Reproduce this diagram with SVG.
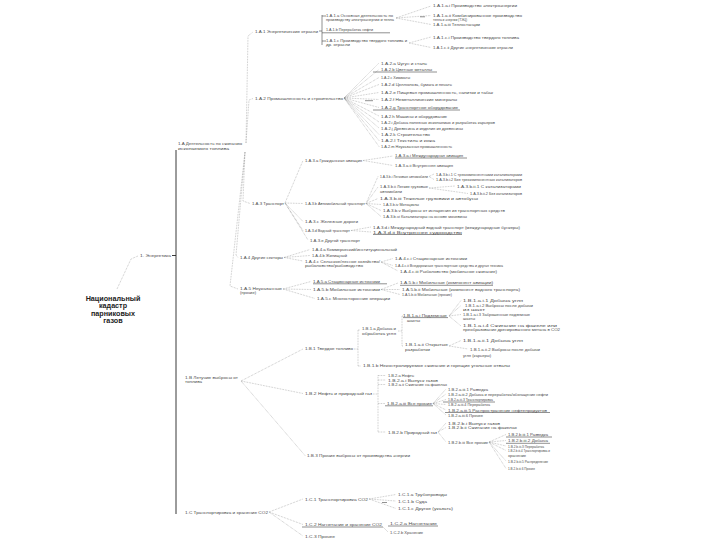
<svg xmlns="http://www.w3.org/2000/svg" width="720" height="540" viewBox="0 0 720 540">
<style>
text{font-family:"Liberation Sans","DejaVu Sans",sans-serif;font-size:4.3px;fill:#4a4a4a}
.root{font-size:7.2px;font-weight:bold;fill:#222;text-anchor:middle}
.c{fill:none;stroke:#8a8a8a;stroke-width:0.55;stroke-dasharray:0.7 0.9}
.u{fill:none;stroke:#555;stroke-width:0.65}
.v{fill:none;stroke:#222;stroke-width:0.9}
</style>
<rect width="720" height="540" fill="#fff"/>
<g id="connectors">
<path class="c" d="M117,289 L131,259 L138,256"/>
<path class="v" d="M176,150 V514 M172,255.5 H176"/>
<path class="c" d="M246,143 L248,36 L253,32 M246,143 L249,100 L253,98.5 M245,152 L243,201 L250,203.5 M245,152 L236,255 L238,257.5 M245,152 L230,286 L238,289"/>
<path class="u" d="M319,31 H322 M322,15 V45 M322,32.8 H390 M322,16 H326 M322,41 H326"/>
<path class="c" d="M396,18 L431,6 M396,18 L431,15.5 M396,18 L431,24.5 M409,43 L431,37 M409,43 L431,47.5"/>
<path class="u" d="M420,16.8 H425"/>
<path class="c" d="M344,98 L379,63 M344,98 L379,69.5 M344,98 L379,77.5 M344,98 L379,84.5 M344,98 L379,92.5 M344,98 L379,99.5 M344,98 L379,107.5 M344,98 L379,116 M344,98 L379,122 M344,98 L379,128 M344,98 L379,134.5 M344,98 L379,140.5 M344,98 L379,146.5"/>
<path class="u" d="M373,72 H437 M373,110 H460 M365,100.7 H373"/>
<path class="c" d="M285,203 L303,160.5 M285,203 L303,203.5 M285,203 L303,221.5 M285,203 L303,230.5 M285,203 L308,240"/>
<path class="c" d="M363,160.5 L393,156 M363,160.5 L393,165.5"/>
<path class="u" d="M395,158 H467"/>
<path class="c" d="M366,203.5 L378,176.5 M366,203.5 L378,187 M366,203.5 L378,198.5 M366,203.5 L381,204.5 M366,203.5 L381,210.5 M366,203.5 L381,216.5"/>
<path class="c" d="M429,176.5 L434,174 M429,176.5 L434,179.5 M429,188 L455,186 M429,188 L468,193.5"/>
<path class="c" d="M351,230.5 L371,227 M351,230.5 L371,232"/>
<path class="u" d="M373,234.5 H462"/>
<path class="c" d="M284,257.5 L310,249.5 M284,257.5 L310,255.5 M284,257.5 L303,261"/>
<path class="c" d="M381,262 L393,258.5 M381,262 L393,265.5 M381,262 L398,271"/>
<path class="c" d="M283,289 L311,281.5 M283,289 L311,289.5 M283,289 L315,298.5"/>
<path class="u" d="M313,283.8 H387 M400,285.3 H493"/>
<path class="c" d="M381,289.5 L398,283 M381,289.5 L400,289.5 M381,289.5 L400,294.5"/>
<path class="c" d="M241,381 L303,349 M241,381 L303,393.5 M241,381 L305,455.5"/>
<path class="c" d="M354,349 L358,349 M358,330 V366 M358,330 L360,330 M358,366 L361,366"/>
<path class="c" d="M398,331 L402,331 M402,316 V346 M402,316 L403,316 M402,346 L403,346"/>
<path class="u" d="M403,317.6 H448"/>
<path class="c" d="M449,316 L461,300.5 M449,316 L461,305.5 M449,316 L461,314.5 M449,316 L461,326 M449,346 L461,340.5 M449,346 L468,349"/>
<path class="c" d="M373,394 L378,394 M378,375.5 V432 M378,375.5 L386,375.5 M378,380 L386,380 M378,384.5 L386,384.5 M378,403.5 L385,403.5 M378,432 L386,432"/>
<path class="u" d="M385,405.8 H433 M443,402 H495 M445,412.5 H550"/>
<path class="c" d="M433,403.5 L446,389 M433,403.5 L446,394 M433,403.5 L446,399.5 M433,403.5 L446,404.5 M433,403.5 L446,410 M433,403.5 L446,415"/>
<path class="c" d="M438,432 L446,423 M438,432 L446,427.5 M438,432 L446,442"/>
<path class="c" d="M489,442 L506,434.5 M489,442 L506,440.5 M489,442 L506,446 M489,442 L506,450.5 M489,442 L506,461 M489,442 L506,468.5"/>
<path class="u" d="M506,437 H552 M506,443.3 H550"/>
<path class="c" d="M269,512 L303,499 M269,512 L303,524.5 M269,512 L303,536"/>
<path class="c" d="M369,499 L396,494.5 M369,499 L396,501 M369,499 L396,508.5"/>
<path class="u" d="M382,502.5 H387 M302,527 H383 M388,526 H438"/>
<path class="c" d="M383,527 L388,532"/>
</g>
<g id="root"><text class="root" x="113" y="300.5">Национальный</text><text class="root" x="113" y="308">кадастр</text><text class="root" x="113" y="315.5">парниковых</text><text class="root" x="113" y="323">газов</text></g>
<g id="n1"><text x="140" y="256.5" textLength="31" lengthAdjust="spacingAndGlyphs">1. Энергетика</text></g>
<g id="n1A"><text x="178" y="145" textLength="64" lengthAdjust="spacingAndGlyphs">1.A Деятельность по сжиганию</text><text x="178" y="150" textLength="51" lengthAdjust="spacingAndGlyphs">ископаемого топлива</text></g>
<g id="n1A1"><text x="255" y="32.5" textLength="63" lengthAdjust="spacingAndGlyphs">1.A.1 Энергетические отрасли</text></g>
<g id="n1A1a"><text x="326" y="16.5" textLength="67" lengthAdjust="spacingAndGlyphs">1.A.1.a Основная деятельность по</text><text x="326" y="21" textLength="68" lengthAdjust="spacingAndGlyphs">производству электроэнергии и тепла</text></g>
<g id="n1A1b"><text x="326" y="31" textLength="47" lengthAdjust="spacingAndGlyphs">1.A.1.b Переработка нефти</text></g>
<g id="n1A1c"><text x="326" y="41.5" textLength="81" lengthAdjust="spacingAndGlyphs">1.A.1.c Производство твердого топлива и</text><text x="326" y="46" textLength="24" lengthAdjust="spacingAndGlyphs">др. отрасли</text></g>
<g id="n1A1ai"><text x="433" y="7.2" textLength="84" lengthAdjust="spacingAndGlyphs">1.A.1.a.i Производство электроэнергии</text></g>
<g id="n1A1aii"><text x="433" y="16.5" textLength="89" lengthAdjust="spacingAndGlyphs">1.A.1.a.ii Комбинированное производство</text><text x="433" y="21" textLength="34" lengthAdjust="spacingAndGlyphs">тепла и энергии (ТЭЦ)</text></g>
<g id="n1A1aiii"><text x="433" y="26" textLength="47" lengthAdjust="spacingAndGlyphs">1.A.1.a.iii Теплостанции</text></g>
<g id="n1A1ci"><text x="433" y="38.5" textLength="86" lengthAdjust="spacingAndGlyphs">1.A.1.c.i Производство твердого топлива</text></g>
<g id="n1A1cii"><text x="433" y="49" textLength="80" lengthAdjust="spacingAndGlyphs">1.A.1.c.ii Другие энергетические отрасли</text></g>
<g id="n1A2"><text x="255" y="99.5" textLength="88" lengthAdjust="spacingAndGlyphs">1.A.2 Промышленность и строительство</text></g>
<g id="n1A2a"><text x="381" y="64.5" textLength="46" lengthAdjust="spacingAndGlyphs">1.A.2.a Чугун и сталь</text></g>
<g id="n1A2b"><text x="381" y="71" textLength="51" lengthAdjust="spacingAndGlyphs">1.A.2.b Цветные металлы</text></g>
<g id="n1A2c"><text x="381" y="79" textLength="29" lengthAdjust="spacingAndGlyphs">1.A.2.c Химикаты</text></g>
<g id="n1A2d"><text x="381" y="86" textLength="71" lengthAdjust="spacingAndGlyphs">1.A.2.d Целлюлоза, бумага и печать</text></g>
<g id="n1A2e"><text x="381" y="94" textLength="112" lengthAdjust="spacingAndGlyphs">1.A.2.e Пищевая промышленность, напитки и табак</text></g>
<g id="n1A2f"><text x="381" y="101" textLength="76" lengthAdjust="spacingAndGlyphs">1.A.2.f Неметаллические минералы</text></g>
<g id="n1A2g"><text x="381" y="109" textLength="77" lengthAdjust="spacingAndGlyphs">1.A.2.g Транспортное оборудование</text></g>
<g id="n1A2h"><text x="381" y="117.5" textLength="66" lengthAdjust="spacingAndGlyphs">1.A.2.h Машины и оборудование</text></g>
<g id="n1A2i"><text x="381" y="123.5" textLength="114" lengthAdjust="spacingAndGlyphs">1.A.2.i Добыча полезных ископаемых и разработка карьеров</text></g>
<g id="n1A2j"><text x="381" y="129.5" textLength="82" lengthAdjust="spacingAndGlyphs">1.A.2.j Древесина и изделия из древесины</text></g>
<g id="n1A2k"><text x="381" y="136" textLength="49" lengthAdjust="spacingAndGlyphs">1.A.2.k Строительство</text></g>
<g id="n1A2l"><text x="381" y="142" textLength="54" lengthAdjust="spacingAndGlyphs">1.A.2.l Текстиль и кожа</text></g>
<g id="n1A2m"><text x="381" y="148" textLength="71" lengthAdjust="spacingAndGlyphs">1.A.2.m Неуказанная промышленность</text></g>
<g id="n1A3"><text x="252" y="204.5" textLength="32" lengthAdjust="spacingAndGlyphs">1.A.3 Транспорт</text></g>
<g id="n1A3a"><text x="305" y="162" textLength="57" lengthAdjust="spacingAndGlyphs">1.A.3.a Гражданская авиация</text></g>
<g id="n1A3ai"><text x="395" y="157" textLength="68" lengthAdjust="spacingAndGlyphs">1.A.3.a.i Международная авиация</text></g>
<g id="n1A3aii"><text x="395" y="167" textLength="58" lengthAdjust="spacingAndGlyphs">1.A.3.a.ii Внутренняя авиация</text></g>
<g id="n1A3b"><text x="305" y="205" textLength="60" lengthAdjust="spacingAndGlyphs">1.A.3.b Автомобильный транспорт</text></g>
<g id="n1A3bi"><text x="380" y="178" textLength="48" lengthAdjust="spacingAndGlyphs">1.A.3.b.i Легковые автомобили</text></g>
<g id="n1A3bi1"><text x="436" y="175.5" textLength="86" lengthAdjust="spacingAndGlyphs">1.A.3.b.i.1 С трехкомпонентными катализаторами</text></g>
<g id="n1A3bi2"><text x="436" y="181" textLength="86" lengthAdjust="spacingAndGlyphs">1.A.3.b.i.2 Без трехкомпонентных катализаторов</text></g>
<g id="n1A3bii"><text x="380" y="188" textLength="48" lengthAdjust="spacingAndGlyphs">1.A.3.b.ii Легкие грузовые</text><text x="380" y="192.5" textLength="22" lengthAdjust="spacingAndGlyphs">автомобили</text></g>
<g id="n1A3bii1"><text x="457" y="187.5" textLength="64" lengthAdjust="spacingAndGlyphs">1.A.3.b.ii.1 С катализаторами</text></g>
<g id="n1A3bii2"><text x="470" y="195" textLength="52" lengthAdjust="spacingAndGlyphs">1.A.3.b.ii.2 Без катализаторов</text></g>
<g id="n1A3biii"><text x="380" y="200" textLength="98" lengthAdjust="spacingAndGlyphs">1.A.3.b.iii Тяжелые грузовики и автобусы</text></g>
<g id="n1A3biv"><text x="383" y="206" textLength="36" lengthAdjust="spacingAndGlyphs">1.A.3.b.iv Мотоциклы</text></g>
<g id="n1A3bv"><text x="383" y="212" textLength="122" lengthAdjust="spacingAndGlyphs">1.A.3.b.v Выбросы от испарения из транспортных средств</text></g>
<g id="n1A3bvi"><text x="383" y="218" textLength="84" lengthAdjust="spacingAndGlyphs">1.A.3.b.vi Катализаторы на основе мочевины</text></g>
<g id="n1A3c"><text x="305" y="223" textLength="53" lengthAdjust="spacingAndGlyphs">1.A.3.c Железные дороги</text></g>
<g id="n1A3d"><text x="305" y="232" textLength="45" lengthAdjust="spacingAndGlyphs">1.A.3.d Водный транспорт</text></g>
<g id="n1A3di"><text x="373" y="228.5" textLength="147" lengthAdjust="spacingAndGlyphs">1.A.3.d.i Международный водный транспорт (международные бункеры)</text></g>
<g id="n1A3dii"><text x="373" y="233.5" textLength="89" lengthAdjust="spacingAndGlyphs">1.A.3.d.ii Внутреннее судоходство</text></g>
<g id="n1A3e"><text x="310" y="241.5" textLength="50" lengthAdjust="spacingAndGlyphs">1.A.3.e Другой транспорт</text></g>
<g id="n1A4"><text x="240" y="259" textLength="43" lengthAdjust="spacingAndGlyphs">1.A.4 Другие секторы</text></g>
<g id="n1A4a"><text x="312" y="251" textLength="85" lengthAdjust="spacingAndGlyphs">1.A.4.a Коммерческий/институциональный</text></g>
<g id="n1A4b"><text x="312" y="257" textLength="35" lengthAdjust="spacingAndGlyphs">1.A.4.b Жилищный</text></g>
<g id="n1A4c"><text x="305" y="262.5" textLength="75" lengthAdjust="spacingAndGlyphs">1.A.4.c Сельское/лесное хозяйство/</text><text x="305" y="267" textLength="58" lengthAdjust="spacingAndGlyphs">рыболовство/рыбоводство</text></g>
<g id="n1A4ci"><text x="395" y="260" textLength="72" lengthAdjust="spacingAndGlyphs">1.A.4.c.i Стационарные источники</text></g>
<g id="n1A4cii"><text x="395" y="267" textLength="108" lengthAdjust="spacingAndGlyphs">1.A.4.c.ii Внедорожные транспортные средства и другая техника</text></g>
<g id="n1A4ciii"><text x="400" y="272.5" textLength="97" lengthAdjust="spacingAndGlyphs">1.A.4.c.iii Рыболовство (мобильное сжигание)</text></g>
<g id="n1A5"><text x="240" y="289.5" textLength="42" lengthAdjust="spacingAndGlyphs">1.A.5 Неуказанные</text><text x="240" y="294" textLength="16" lengthAdjust="spacingAndGlyphs">(прочие)</text></g>
<g id="n1A5a"><text x="313" y="282.5" textLength="67" lengthAdjust="spacingAndGlyphs">1.A.5.a Стационарные источники</text></g>
<g id="n1A5b"><text x="313" y="291" textLength="67" lengthAdjust="spacingAndGlyphs">1.A.5.b Мобильные источники</text></g>
<g id="n1A5c"><text x="317" y="300" textLength="73" lengthAdjust="spacingAndGlyphs">1.A.5.c Многосторонние операции</text></g>
<g id="n1A5bi"><text x="400" y="284" textLength="93" lengthAdjust="spacingAndGlyphs">1.A.5.b.i Мобильные (компонент авиации)</text></g>
<g id="n1A5bii"><text x="402" y="291" textLength="118" lengthAdjust="spacingAndGlyphs">1.A.5.b.ii Мобильные (компонент водного транспорта)</text></g>
<g id="n1A5biii"><text x="402" y="296" textLength="50" lengthAdjust="spacingAndGlyphs">1.A.5.b.iii Мобильные (прочие)</text></g>
<g id="n1B"><text x="185" y="378.5" textLength="53" lengthAdjust="spacingAndGlyphs">1.B Летучие выбросы от</text><text x="185" y="383" textLength="17" lengthAdjust="spacingAndGlyphs">топлива</text></g>
<g id="n1B1"><text x="305" y="350" textLength="48" lengthAdjust="spacingAndGlyphs">1.B.1 Твердое топливо</text></g>
<g id="n1B1a"><text x="362" y="329.5" textLength="34" lengthAdjust="spacingAndGlyphs">1.B.1.a Добыча и</text><text x="362" y="334.5" textLength="34" lengthAdjust="spacingAndGlyphs">обработка угля</text></g>
<g id="n1B1ai"><text x="403" y="316.5" textLength="44" lengthAdjust="spacingAndGlyphs">1.B.1.a.i Подземные</text><text x="407" y="322" textLength="13" lengthAdjust="spacingAndGlyphs">шахты</text></g>
<g id="n1B1ai1"><text x="463" y="301.5" textLength="60" lengthAdjust="spacingAndGlyphs">1.B.1.a.i.1 Добыча угля</text></g>
<g id="n1B1ai2"><text x="465" y="306.5" textLength="68" lengthAdjust="spacingAndGlyphs">1.B.1.a.i.2 Выбросы после добычи</text><text x="463" y="311" textLength="22" lengthAdjust="spacingAndGlyphs">из шахт</text></g>
<g id="n1B1ai3"><text x="463" y="315.5" textLength="67" lengthAdjust="spacingAndGlyphs">1.B.1.a.i.3 Заброшенные подземные</text><text x="463" y="320" textLength="12" lengthAdjust="spacingAndGlyphs">шахты</text></g>
<g id="n1B1ai4"><text x="463" y="327" textLength="94" lengthAdjust="spacingAndGlyphs">1.B.1.a.i.4 Сжигание на факеле или</text><text x="463" y="331" textLength="97" lengthAdjust="spacingAndGlyphs">преобразование дренированного метана в CO2</text></g>
<g id="n1B1aii"><text x="405" y="346" textLength="43" lengthAdjust="spacingAndGlyphs">1.B.1.a.ii Открытые</text><text x="405" y="350.5" textLength="25" lengthAdjust="spacingAndGlyphs">разработки</text></g>
<g id="n1B1aii1"><text x="463" y="341.5" textLength="60" lengthAdjust="spacingAndGlyphs">1.B.1.a.ii.1 Добыча угля</text></g>
<g id="n1B1aii2"><text x="470" y="350.5" textLength="70" lengthAdjust="spacingAndGlyphs">1.B.1.a.ii.2 Выбросы после добычи</text><text x="463" y="356.5" textLength="28" lengthAdjust="spacingAndGlyphs">угля (карьеры)</text></g>
<g id="n1B1b"><text x="363" y="367" textLength="147" lengthAdjust="spacingAndGlyphs">1.B.1.b Неконтролируемое сжигание и горящие угольные отвалы</text></g>
<g id="n1B2"><text x="305" y="395" textLength="67" lengthAdjust="spacingAndGlyphs">1.B.2 Нефть и природный газ</text></g>
<g id="n1B2a"><text x="388" y="377" textLength="26" lengthAdjust="spacingAndGlyphs">1.B.2.a Нефть</text></g>
<g id="n1B2ai"><text x="388" y="381.5" textLength="50" lengthAdjust="spacingAndGlyphs">1.B.2.a.i Выпуск газов</text></g>
<g id="n1B2aii"><text x="388" y="386" textLength="59" lengthAdjust="spacingAndGlyphs">1.B.2.a.ii Сжигание на факелах</text></g>
<g id="n1B2aiii"><text x="387" y="405" textLength="45" lengthAdjust="spacingAndGlyphs">1.B.2.a.iii Все прочие</text></g>
<g id="n1B2aiii1"><text x="448" y="390.5" textLength="40" lengthAdjust="spacingAndGlyphs">1.B.2.a.iii.1 Разведка</text></g>
<g id="n1B2aiii2"><text x="448" y="395.5" textLength="100" lengthAdjust="spacingAndGlyphs">1.B.2.a.iii.2 Добыча и переработка/обогащение нефти</text></g>
<g id="n1B2aiii3"><text x="448" y="401" textLength="45" lengthAdjust="spacingAndGlyphs">1.B.2.a.iii.3 Транспортировка</text></g>
<g id="n1B2aiii4"><text x="448" y="406" textLength="42" lengthAdjust="spacingAndGlyphs">1.B.2.a.iii.4 Переработка</text></g>
<g id="n1B2aiii5"><text x="448" y="411.5" textLength="99" lengthAdjust="spacingAndGlyphs">1.B.2.a.iii.5 Распространение нефтепродуктов</text></g>
<g id="n1B2aiii6"><text x="448" y="416.5" textLength="35" lengthAdjust="spacingAndGlyphs">1.B.2.a.iii.6 Прочее</text></g>
<g id="n1B2b"><text x="388" y="433.5" textLength="49" lengthAdjust="spacingAndGlyphs">1.B.2.b Природный газ</text></g>
<g id="n1B2bi"><text x="448" y="424.5" textLength="52" lengthAdjust="spacingAndGlyphs">1.B.2.b.i Выпуск газов</text></g>
<g id="n1B2bii"><text x="448" y="429" textLength="69" lengthAdjust="spacingAndGlyphs">1.B.2.b.ii Сжигание на факелах</text></g>
<g id="n1B2biii"><text x="448" y="443.5" textLength="40" lengthAdjust="spacingAndGlyphs">1.B.2.b.iii Все прочие</text></g>
<g id="n1B2biii1"><text x="508" y="436" textLength="40" lengthAdjust="spacingAndGlyphs">1.B.2.b.iii.1 Разведка</text></g>
<g id="n1B2biii2"><text x="508" y="442.3" textLength="40" lengthAdjust="spacingAndGlyphs">1.B.2.b.iii.2 Добыча</text></g>
<g id="n1B2biii3"><text x="508" y="447.5" textLength="36" lengthAdjust="spacingAndGlyphs">1.B.2.b.iii.3 Переработка</text></g>
<g id="n1B2biii4"><text x="508" y="452" textLength="42" lengthAdjust="spacingAndGlyphs">1.B.2.b.iii.4 Транспортировка и</text><text x="508" y="456.5" textLength="18" lengthAdjust="spacingAndGlyphs">хранение</text></g>
<g id="n1B2biii5"><text x="508" y="462.5" textLength="40" lengthAdjust="spacingAndGlyphs">1.B.2.b.iii.5 Распределение</text></g>
<g id="n1B2biii6"><text x="508" y="470" textLength="27" lengthAdjust="spacingAndGlyphs">1.B.2.b.iii.6 Прочее</text></g>
<g id="n1B3"><text x="307" y="457" textLength="103" lengthAdjust="spacingAndGlyphs">1.B.3 Прочие выбросы от производства энергии</text></g>
<g id="n1C"><text x="185" y="513.5" textLength="83" lengthAdjust="spacingAndGlyphs">1.C Транспортировка и хранение CO2</text></g>
<g id="n1C1"><text x="305" y="500.5" textLength="63" lengthAdjust="spacingAndGlyphs">1.C.1 Транспортировка CO2</text></g>
<g id="n1C1a"><text x="398" y="496" textLength="49" lengthAdjust="spacingAndGlyphs">1.C.1.a Трубопроводы</text></g>
<g id="n1C1b"><text x="398" y="502.5" textLength="29" lengthAdjust="spacingAndGlyphs">1.C.1.b Суда</text></g>
<g id="n1C1c"><text x="398" y="510" textLength="55" lengthAdjust="spacingAndGlyphs">1.C.1.c Другое (указать)</text></g>
<g id="n1C2"><text x="305" y="525.8" textLength="77" lengthAdjust="spacingAndGlyphs">1.C.2 Нагнетание и хранение CO2</text></g>
<g id="n1C2a"><text x="390" y="524.8" textLength="47" lengthAdjust="spacingAndGlyphs">1.C.2.a Нагнетание</text></g>
<g id="n1C2b"><text x="390" y="533.5" textLength="33" lengthAdjust="spacingAndGlyphs">1.C.2.b Хранение</text></g>
<g id="n1C3"><text x="305" y="537.5" textLength="30" lengthAdjust="spacingAndGlyphs">1.C.3 Прочее</text></g>
</svg>
